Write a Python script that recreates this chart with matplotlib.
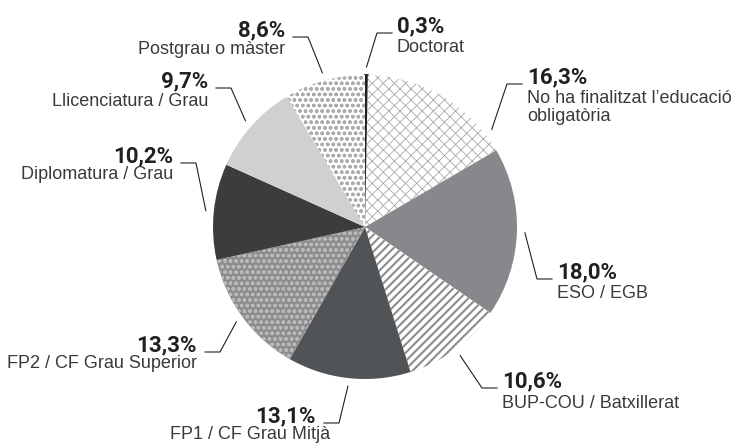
import numpy as np
import matplotlib
matplotlib.use('Agg')
import matplotlib.pyplot as plt
from matplotlib import font_manager

# dades: nivell d'estudis (%)
categories = ['Doctorat', 'No ha finalitzat l’educació\nobligatòria', 'ESO / EGB',
              'BUP-COU / Batxillerat', 'FP1 / CF Grau Mitjà', 'FP2 / CF Grau Superior',
              'Diplomatura / Grau', 'Llicenciatura / Grau', 'Postgrau o màster']
values = [0.3, 16.3, 18.0, 10.6, 13.1, 13.3, 10.2, 9.7, 8.6]

# estil de cada porció: color de fons, trama, color de la trama, gruix trama
faces = ['#231f20', 'white', '#87888c', 'white', '#505457', '#8c8c8e', '#3c3c3c', '#d0d0d0', 'white']
hatches = [None, 'xxx', None, '////', None, 'ooo', None, None, 'ooo']
hatch_cols = ['#231f20', '#a8a8a8', '#87888c', '#8d8d8d', '#505457', '#b9b9b9', '#3c3c3c', '#d0d0d0', '#acacac']
hatch_lw = [1, 0.6, 1, 1.5, 1, 1.0, 1, 1, 1.0]

# posicio de les etiquetes (pixels): costat, x del text, linia base %, linia base nom, despl. x nom
lab_side = ['L', 'L', 'L', 'L', 'R', 'R', 'R', 'R', 'R']
lab_x = [397, 527, 557, 502, 316, 197, 173, 208, 285]
lab_y = [32, 83, 278, 387, 422, 351, 162, 87, 36]
name_y = [52, 103, 298, 408, 439, 368, 179, 106, 54]
name_dx = [0, 0, 0, 0, 14, 0, 0, 0, 0]
tip_off = [0, 22, 0, 0, 0, 0, 0, 0, 0]

names = {f.name for f in font_manager.fontManager.ttflist}
if 'Liberation Sans Narrow' in names:
    pct_font = dict(family='Liberation Sans Narrow', fontsize=18, fontweight='bold')
elif 'Roboto' in names:
    pct_font = dict(family='Roboto', fontsize=16, fontweight='bold')
else:
    pct_font = dict(family='DejaVu Sans', fontstretch='condensed', fontsize=15, fontweight='bold')
name_font = dict(family='Liberation Sans', fontsize=13, color='#3a3a3a')

W, H = 734, 444
fig = plt.figure(figsize=(W / 100, H / 100), dpi=100)
ax = fig.add_axes([0, 0, 1, 1])

cx, cy, R = 365, 227, 152
wedges, _ = ax.pie(values, colors=faces, startangle=270, counterclock=True,
                   center=(cx, cy), radius=R, wedgeprops=dict(linewidth=0))
for i, w in enumerate(wedges):
    w.set_edgecolor(hatch_cols[i])
    if hatches[i]:
        w.set_hatch(hatches[i])
        if hasattr(w, 'set_hatch_linewidth'):
            w.set_hatch_linewidth(hatch_lw[i])
wedges[0].set_linewidth(1.3)

ax.set_xlim(0, W)
ax.set_ylim(H, 0)
ax.set_aspect('equal')
ax.axis('off')

line_col = '#231f20'
for i in range(len(values)):
    pct = f'{values[i]:.1f}%'.replace('.', ',')
    x, y = lab_x[i], lab_y[i]
    ha = 'left' if lab_side[i] == 'L' else 'right'
    ax.text(x, y, pct, ha=ha, va='baseline', color='#231f20', **pct_font)
    lines = categories[i].split('\n')
    for k, ln in enumerate(lines):
        ax.text(x + name_dx[i], name_y[i] + 18 * k, ln, ha=ha, va='baseline', **name_font)
    # linia guia
    w = wedges[i]
    mid = np.deg2rad((w.theta1 + w.theta2) / 2 + tip_off[i])
    tx = cx + (R + 8) * np.cos(mid)
    ty = cy + (R + 8) * np.sin(mid)
    if lab_side[i] == 'L':
        ex, sx = x - 20, x - 5
    else:
        ex, sx = x + 23, x + 8
    ax.plot([tx, ex, sx], [ty, y + 1, y + 1], color=line_col, lw=0.8, solid_joinstyle='miter')

fig.savefig('out.png', dpi=100)
